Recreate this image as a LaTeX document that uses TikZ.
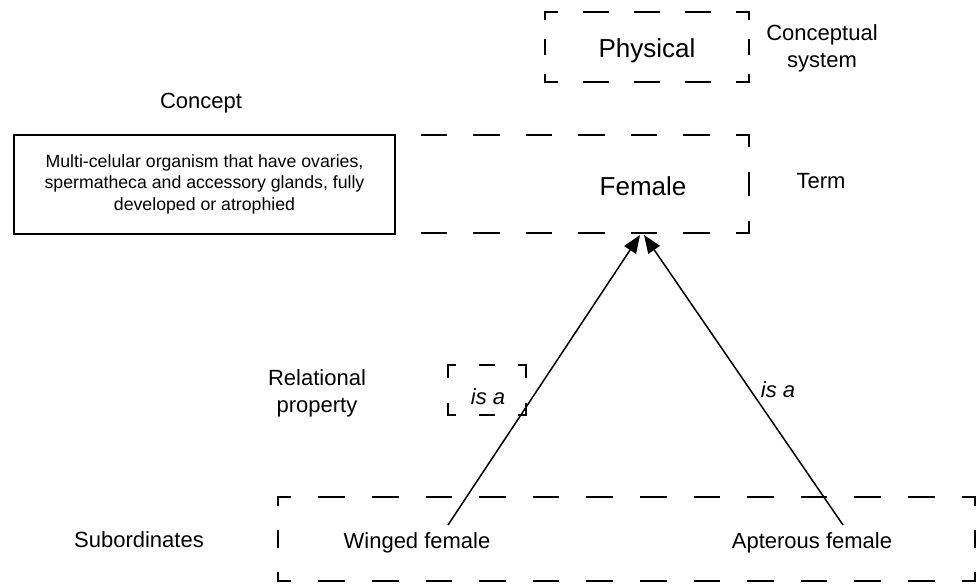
\documentclass[tikz,border=0pt]{standalone}
\usepackage{fontspec}
\setmainfont{Liberation Sans}
\usetikzlibrary{arrows.meta}
\newcommand\dseg[4]{%
  \pgfmathsetmacro\dsLen{veclen(#3-#1,#4-#2)}%
  \pgfmathsetmacro\dsN{max(1,ceil(\dsLen/54))}%
  \pgfmathsetmacro\dsP{\dsLen/\dsN}%
  \pgfmathsetmacro\dsOn{\dsP<45 ? 0.38*\dsP : 0.46*\dsP}%
  \pgfmathsetmacro\dsOff{\dsP-\dsOn}%
  \pgfmathsetmacro\dsPh{\dsOn/2}%
  \draw[dashbox,dash pattern=on \dsOn pt off \dsOff pt,dash phase=\dsPh pt] (#1,#2) -- (#3,#4);%
}
\newcommand\dbox[4]{%
  \dseg{#1}{#2}{#3}{#2}\dseg{#3}{#2}{#3}{#4}\dseg{#3}{#4}{#1}{#4}\dseg{#1}{#4}{#1}{#2}}
\begin{document}
\begin{tikzpicture}[x=1pt,y=-1pt,
  dashbox/.style={line width=2pt,line cap=rect},
  lbl/.style={font=\fontsize{22}{27}\selectfont,inner sep=0pt,align=center},
  big/.style={font=\fontsize{26}{31}\selectfont,inner sep=0pt},
  isa/.style={font=\fontsize{22}{27}\selectfont\itshape,inner sep=0pt},
  arrowline/.style={line width=1.5pt,-{Triangle[length=18pt,width=14pt]}}]
\useasboundingbox (0,0) rectangle (979,586);
% dashed boxes
\dbox{545}{12}{749}{82}
\dbox{14}{135}{749}{233}
\dbox{448}{365}{526}{415}
\dbox{278}{497}{975}{581}
% concept box
\node[draw,line width=2pt,fill=white,minimum width=381pt,minimum height=99pt,
  inner sep=0pt,align=center,font=\fontsize{17.7}{21.5}\selectfont] (concept) at (204.5,184)
  {Multi-celular organism that have ovaries,\\spermatheca and accessory glands, fully\\developed or atrophied};
% texts
\node[big,anchor=base] (physical) at (647,57) {Physical};
\node[lbl] (concsys) at (822,48) {Conceptual\\system};
\node[lbl,anchor=base] (conceptlbl) at (201,108) {Concept};
\node[big,anchor=base] (female) at (643,195) {Female};
\node[lbl,anchor=base] (term) at (821,188) {Term};
\node[lbl] (relprop) at (317,393) {Relational\\property};
\node[isa,anchor=base] (isa1) at (488,404) {is a};
\node[isa,anchor=base] (isa2) at (778,397) {is a};
\node[lbl,anchor=base] (subord) at (139,547) {Subordinates};
\node[lbl,anchor=base] (winged) at (417,548) {Winged female};
\node[lbl,anchor=base] (apterous) at (812,548) {Apterous female};
% connector ends
\coordinate (wingedTop) at (448,525);
\coordinate (apterousTop) at (843,525);
\coordinate (femaleL) at (640,235);
\coordinate (femaleR) at (644,235);
\draw[arrowline] (wingedTop) -- (femaleL);
\draw[arrowline] (apterousTop) -- (femaleR);
\end{tikzpicture}
\end{document}
